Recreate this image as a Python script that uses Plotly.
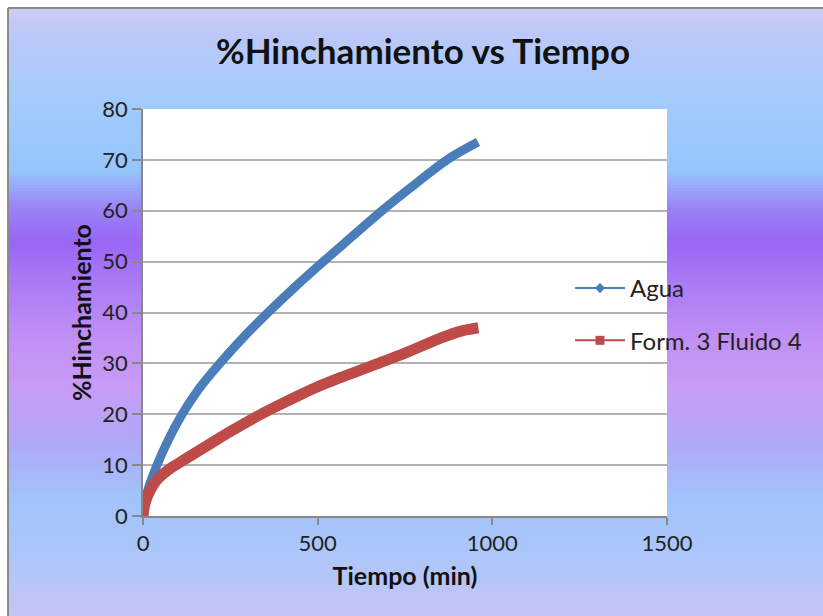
import plotly.graph_objects as go

# Swelling (%) versus time (min), two fluids
agua_t = [0, 3, 8, 18, 40, 70, 112, 160, 220, 290, 358, 430, 516, 600, 684, 784, 870, 959]
agua_y = [0, 2.0, 3.6, 6.0, 10.0, 14.6, 20.0, 25.0, 30.0, 35.3, 40.0, 44.7, 50.0, 55.0, 60.0, 65.5, 70.0, 73.5]

form_t = [0, 3, 8, 18, 34, 55, 77, 100, 140, 190, 250, 335, 395, 455, 500, 550, 600, 669, 750, 850, 908, 960]
form_y = [0, 1.6, 3.0, 4.7, 6.6, 8.1, 9.3, 10.3, 12.0, 14.1, 16.6, 19.9, 22.0, 24.0, 25.4, 26.8, 28.1, 29.9, 32.0, 34.9, 36.3, 37.0]

x_ticks = [0, 500, 1000, 1500]
y_ticks = [0, 10, 20, 30, 40, 50, 60, 70, 80]

W, H = 823, 616
FONT = "Lato"
BLUE = "#4a7ebb"
RED = "#be4b48"

# vertical background gradient (pixel offset from top, colour)
stops = [
    (8, (207, 202, 246)), (40, (186, 200, 248)), (100, (163, 204, 251)),
    (172, (150, 196, 253)), (208, (155, 130, 248)), (242, (153, 102, 245)),
    (278, (168, 120, 245)), (338, (192, 144, 245)), (388, (199, 155, 246)),
    (442, (176, 168, 250)), (500, (160, 196, 251)), (548, (170, 198, 250)),
    (616, (198, 196, 246)),
]


def colour_at(py):
    for (p0, c0), (p1, c1) in zip(stops, stops[1:]):
        if p0 <= py <= p1:
            f = (py - p0) / (p1 - p0)
            r, g, b = (round(a + (b_ - a) * f) for a, b_ in zip(c0, c1))
            return f"rgb({r},{g},{b})"
    return "rgb(198,196,246)"


shapes = []
frame_left, frame_top = 8, 8
step = 3
for py in range(frame_top, H, step):
    shapes.append(dict(
        type="rect", xref="paper", yref="paper", layer="below",
        x0=frame_left / W, x1=1, y0=1 - min(py + step + 1, H) / H, y1=1 - py / H,
        fillcolor=colour_at(py + step / 2), line=dict(width=0),
    ))
# frame edges
shapes.append(dict(type="line", xref="paper", yref="paper", layer="below",
                   x0=frame_left / W, x1=frame_left / W, y0=0, y1=1 - frame_top / H,
                   line=dict(color="#8a8a8a", width=2)))
shapes.append(dict(type="line", xref="paper", yref="paper", layer="below",
                   x0=frame_left / W, x1=1, y0=1 - frame_top / H, y1=1 - frame_top / H,
                   line=dict(color="#8a8a8a", width=2)))
# white plot area
shapes.append(dict(type="rect", xref="x domain", yref="y domain", layer="below",
                   x0=0, x1=1, y0=0, y1=1, fillcolor="white", line=dict(width=0)))

fig = go.Figure()

# thick data curves
fig.add_trace(go.Scatter(x=agua_t, y=agua_y, mode="lines", showlegend=False,
                         line=dict(color=BLUE, width=9, shape="spline", smoothing=1.0),
                         hoverinfo="skip"))
fig.add_trace(go.Scatter(x=form_t, y=form_y, mode="lines", showlegend=False,
                         line=dict(color=RED, width=11, shape="spline", smoothing=1.0),
                         hoverinfo="skip"))
# legend entries
fig.add_trace(go.Scatter(x=[None], y=[None], mode="lines+markers", name="Agua",
                         legendgroup="a",
                         line=dict(color=BLUE, width=2),
                         marker=dict(symbol="diamond", size=8, color=BLUE)))
fig.add_trace(go.Scatter(x=[None], y=[None], mode="lines+markers", name="Form. 3 Fluido 4",
                         legendgroup="b",
                         line=dict(color=RED, width=2),
                         marker=dict(symbol="square", size=9, color=RED)))

x0p, x1p = 143, 667
y0p, y1p = 516, 109

fig.update_layout(
    width=W, height=H, autosize=False,
    margin=dict(l=0, r=0, t=0, b=0, autoexpand=False),
    paper_bgcolor="white",
    plot_bgcolor="rgba(0,0,0,0)",
    shapes=shapes,
    font=dict(family=FONT, color="#222222"),
    title=dict(text="<b>%Hinchamiento vs Tiempo</b>", x=423 / W, xanchor="center",
               y=1 - 52 / H, yanchor="middle", automargin=False,
               font=dict(family=FONT, size=35, color="#111111")),
    xaxis=dict(
        domain=[x0p / W, x1p / W], range=[0, 1500], automargin=False,
        tickvals=x_ticks, ticktext=[str(v) for v in x_ticks],
        showgrid=False, zeroline=False,
        showline=True, linecolor="#888888", linewidth=1.5,
        ticks="outside", ticklen=7, tickcolor="#888888", tickwidth=1.5,
        tickfont=dict(size=22, color="#222222"),
        title=dict(text="<b>Tiempo (min)</b>", standoff=12,
                   font=dict(size=25, color="#111111")),
    ),
    yaxis=dict(
        domain=[1 - y0p / H, 1 - y1p / H], range=[0, 80], automargin=False,
        tickvals=y_ticks, ticktext=[str(v) for v in y_ticks],
        showgrid=True, gridcolor="#b3b3b3", gridwidth=2, zeroline=False,
        showline=True, linecolor="#888888", linewidth=1.5,
        ticks="outside", ticklen=9, tickcolor="#888888", tickwidth=1.5,
        tickfont=dict(size=22, color="#222222"),
        title=dict(text="<b>%Hinchamiento</b>", standoff=4,
                   font=dict(size=25, color="#111111")),
    ),
    legend=dict(
        x=570 / W, xanchor="left", y=1 - 314.5 / H, yanchor="middle",
        bgcolor="rgba(0,0,0,0)", borderwidth=0,
        font=dict(family=FONT, size=24, color="#222222"),
        traceorder="grouped", tracegroupgap=18, itemwidth=50,
    ),
)

fig.write_html("out.html")
